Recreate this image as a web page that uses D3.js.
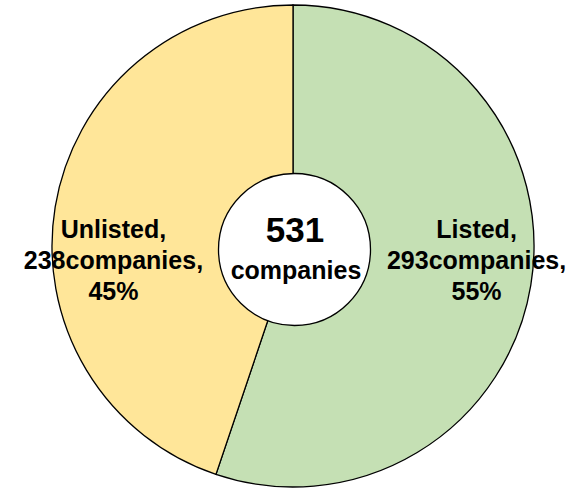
<!DOCTYPE html>
<html>
<head>
<meta charset="utf-8">
<script src="https://cdn.jsdelivr.net/npm/d3@7"></script>
<style>
  html, body { margin: 0; padding: 0; background: #ffffff; }
  svg { display: block; }
  text { font-family: "Liberation Sans", Arial, sans-serif; font-weight: bold; fill: #000; }
</style>
</head>
<body>
<svg id="chart" width="579" height="490"></svg>
<script>
// Company counts by listing status
const categories = ["Listed", "Unlisted"];
const counts = [293, 238];
const colors = ["#C5E0B4", "#FFE699"];
const totalLabel = "531";
const unitLabel = "companies";

const svg = d3.select("#chart");
const cx = 293, cy = 246, outerR = 241;
const holeCx = 294.5, holeCy = 249.5, holeR = 76;

const total = d3.sum(counts);
const data = categories.map((c, i) => ({ name: c, value: counts[i], color: colors[i] }));

const pie = d3.pie().value(d => d.value).sort(null);
const arc = d3.arc().innerRadius(0).outerRadius(outerR);
const labelArc = d3.arc().innerRadius(184).outerRadius(184);

const g = svg.append("g").attr("transform", `translate(${cx},${cy})`);
const arcs = pie(data);

g.selectAll("path.slice")
  .data(arcs)
  .join("path")
  .attr("class", "slice")
  .attr("d", arc)
  .attr("fill", d => d.data.color)
  .attr("stroke", "#000")
  .attr("stroke-width", 1.3);

// Centre hole
svg.append("circle")
  .attr("cx", holeCx).attr("cy", holeCy).attr("r", holeR)
  .attr("fill", "#fff")
  .attr("stroke", "#000")
  .attr("stroke-width", 1.3);

// Slice labels: horizontal position from the slice's mid angle,
// three lines set just below the pie's horizontal centre line
const pct = d3.format(".0%");
const lineOffsets = [-8, 22.5, 53.5];
arcs.forEach(a => {
  const [lx] = labelArc.centroid(a);
  const lines = [
    a.data.name + ",",
    a.data.value + unitLabel + ",",
    pct(a.data.value / total)
  ];
  const t = g.append("text")
    .attr("text-anchor", "middle")
    .style("font-size", "25px");
  lines.forEach((s, i) => {
    t.append("tspan").attr("x", lx + 2).attr("y", lineOffsets[i]).text(s);
  });
});

// Centre total
svg.append("text")
  .attr("x", 295).attr("y", 242)
  .attr("text-anchor", "middle")
  .style("font-size", "35px")
  .text(totalLabel);
svg.append("text")
  .attr("x", 296).attr("y", 279)
  .attr("text-anchor", "middle")
  .style("font-size", "25px")
  .text(unitLabel);
</script>
</body>
</html>
